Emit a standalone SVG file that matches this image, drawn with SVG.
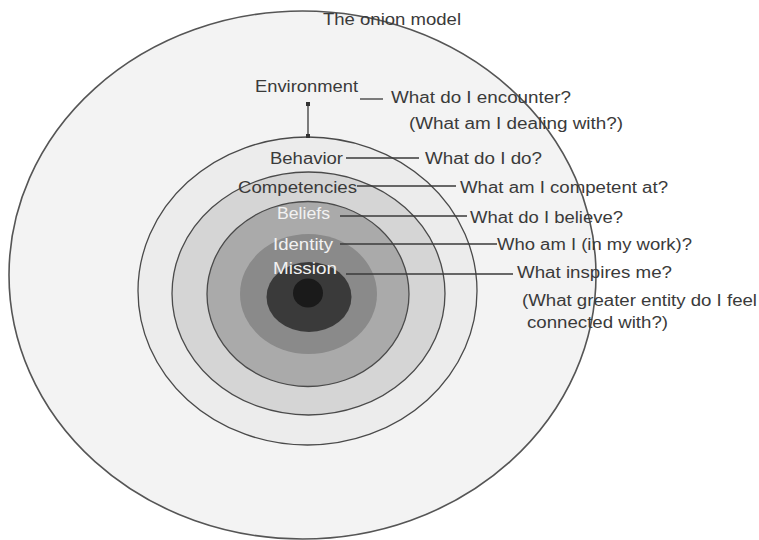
<svg xmlns="http://www.w3.org/2000/svg" width="759" height="540" viewBox="0 0 759 540">
<style>
text{font-family:"Liberation Sans",Arial,sans-serif;font-size:16px;fill:#3a3a3a}
.lt{fill:#f2f2f2}
.ring{stroke:#4a4a4a;stroke-width:1.3}
.ln{stroke:#3a3a3a;stroke-width:1.3;fill:none}
</style>
<defs>
<marker id="dot" viewBox="0 0 6 6" refX="3" refY="3" markerWidth="4" markerHeight="4" markerUnits="userSpaceOnUse"><rect x="0" y="0" width="6" height="6" fill="#333"/></marker>
</defs>
<rect width="759" height="540" fill="#ffffff"/>
<g id="environment">
<ellipse cx="302.5" cy="275" rx="293.5" ry="264" fill="#f3f3f3" stroke="#555" stroke-width="1.6"/>
</g>
<g id="behavior">
<ellipse class="ring" cx="307.5" cy="291" rx="169.5" ry="154" fill="#ececec"/>
</g>
<g id="competencies">
<ellipse class="ring" cx="308.5" cy="293.5" rx="136.5" ry="121.5" fill="#d5d5d5"/>
</g>
<g id="beliefs">
<ellipse class="ring" cx="308" cy="294" rx="101" ry="92.5" fill="#aaaaaa"/>
</g>
<g id="identity">
<ellipse cx="308.5" cy="294" rx="68.5" ry="60" fill="#8a8a8a"/>
</g>
<g id="mission">
<ellipse cx="309" cy="297" rx="42.5" ry="35" fill="#3a3a3a"/>
</g>
<g id="core">
<ellipse cx="308" cy="293" rx="15" ry="14.5" fill="#1a1a1a"/>
</g>
<g id="connectors">
<line class="ln" x1="308" y1="104" x2="308" y2="136" stroke="#666" stroke-width="2.5" marker-start="url(#dot)" marker-end="url(#dot)"/>
<line class="ln" x1="360" y1="99" x2="383" y2="99"/>
<line class="ln" x1="346" y1="158" x2="419" y2="158"/>
<line class="ln" x1="357" y1="186" x2="456" y2="186"/>
<line class="ln" x1="340" y1="216" x2="467" y2="216"/>
<line class="ln" x1="340" y1="244" x2="497" y2="244"/>
<line class="ln" x1="346" y1="274" x2="513" y2="274"/>
</g>
<g id="labels">
<text x="323" y="25" textLength="138" lengthAdjust="spacingAndGlyphs">The onion model</text>
<text x="255" y="92" textLength="103" lengthAdjust="spacingAndGlyphs">Environment</text>
<text x="391" y="103" textLength="180" lengthAdjust="spacingAndGlyphs">What do I encounter?</text>
<text x="409" y="129" textLength="214" lengthAdjust="spacingAndGlyphs">(What am I dealing with?)</text>
<text x="270" y="164" textLength="73" lengthAdjust="spacingAndGlyphs">Behavior</text>
<text x="425" y="164" textLength="117" lengthAdjust="spacingAndGlyphs">What do I do?</text>
<text x="238" y="193" textLength="119" lengthAdjust="spacingAndGlyphs">Competencies</text>
<text x="460" y="193" textLength="208" lengthAdjust="spacingAndGlyphs">What am I competent at?</text>
<text class="lt" x="277" y="219" textLength="53" lengthAdjust="spacingAndGlyphs">Beliefs</text>
<text x="470" y="223" textLength="153" lengthAdjust="spacingAndGlyphs">What do I believe?</text>
<text class="lt" x="273" y="250" textLength="60" lengthAdjust="spacingAndGlyphs">Identity</text>
<text x="497" y="250" textLength="195" lengthAdjust="spacingAndGlyphs">Who am I (in my work)?</text>
<text class="lt" x="273" y="274" textLength="64" lengthAdjust="spacingAndGlyphs">Mission</text>
<text x="517" y="278" textLength="155" lengthAdjust="spacingAndGlyphs">What inspires me?</text>
<text x="522" y="306" textLength="235" lengthAdjust="spacingAndGlyphs">(What greater entity do I feel</text>
<text x="527" y="328" textLength="141" lengthAdjust="spacingAndGlyphs">connected with?)</text>
</g>
</svg>
